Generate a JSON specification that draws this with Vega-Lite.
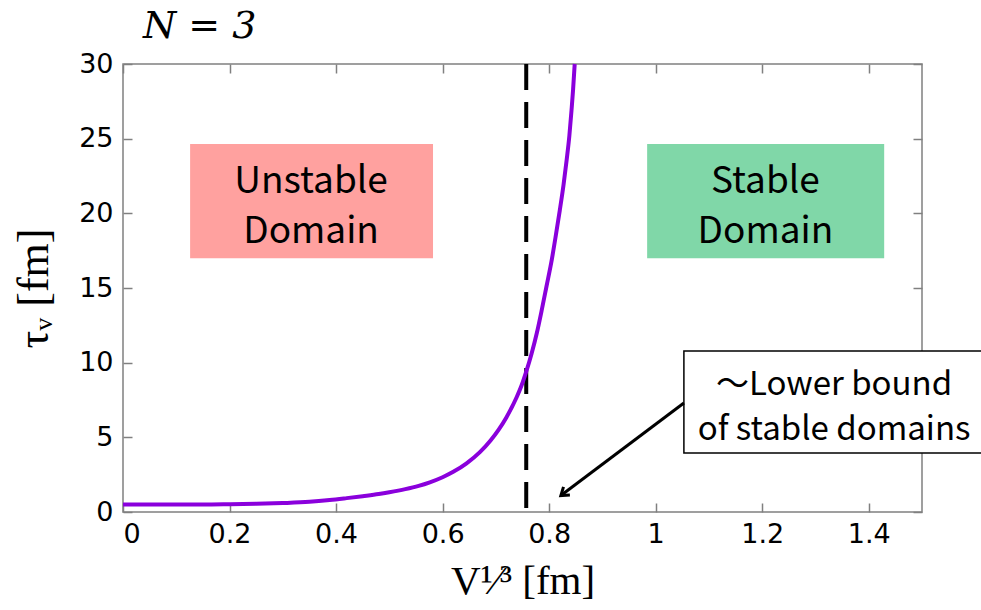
{
  "$schema": "https://vega.github.io/schema/vega-lite/v6.json",
  "autosize": "none",
  "width": 799,
  "height": 448,
  "padding": {"left": 123, "top": 64, "right": 59, "bottom": 98},
  "background": "white",
  "title": {"text": "N = 3", "anchor": "start", "frame": "group", "font": "DejaVu Serif", "fontStyle": "italic", "fontWeight": "normal", "fontSize": 38, "color": "black", "dx": 20, "offset": 4},
  "config": {
    "view": {"stroke": "#808080", "strokeWidth": 1.5},
    "axis": {"grid": false, "domain": false, "tickColor": "#808080", "tickWidth": 1.5, "tickSize": -9, "labelColor": "black", "labelFont": "DejaVu Sans", "labelFontSize": 27, "titleColor": "black", "titleFont": "Liberation Serif", "titleFontWeight": "normal", "titleFontSize": 36}
  },
  "datasets": {
    "curve": [
      {"v": 0.0, "tau": 0.5}, {"v": 0.05, "tau": 0.5}, {"v": 0.1, "tau": 0.5}, {"v": 0.15, "tau": 0.5},
      {"v": 0.2, "tau": 0.52}, {"v": 0.25, "tau": 0.55}, {"v": 0.3, "tau": 0.6}, {"v": 0.35, "tau": 0.68},
      {"v": 0.388, "tau": 0.8}, {"v": 0.42, "tau": 0.93}, {"v": 0.45, "tau": 1.06}, {"v": 0.48, "tau": 1.2},
      {"v": 0.5, "tau": 1.32}, {"v": 0.53, "tau": 1.53}, {"v": 0.555, "tau": 1.75}, {"v": 0.576, "tau": 1.99},
      {"v": 0.6, "tau": 2.33}, {"v": 0.62, "tau": 2.69}, {"v": 0.645, "tau": 3.26}, {"v": 0.67, "tau": 4.01},
      {"v": 0.69, "tau": 4.79}, {"v": 0.705, "tau": 5.5}, {"v": 0.72, "tau": 6.35}, {"v": 0.739, "tau": 7.68},
      {"v": 0.748, "tau": 8.45}, {"v": 0.757, "tau": 9.4}, {"v": 0.767, "tau": 10.6}, {"v": 0.777, "tau": 12.0},
      {"v": 0.786, "tau": 13.5}, {"v": 0.795, "tau": 15.1}, {"v": 0.805, "tau": 16.9}, {"v": 0.812, "tau": 18.4},
      {"v": 0.82, "tau": 20.2}, {"v": 0.827, "tau": 21.9}, {"v": 0.833, "tau": 23.6}, {"v": 0.838, "tau": 25.2},
      {"v": 0.842, "tau": 26.9}, {"v": 0.845, "tau": 28.3}, {"v": 0.848, "tau": 30.0}
    ],
    "boxes": [
      {"kind": "Unstable", "x1": 0.126, "x2": 0.582, "y1": 24.64, "y2": 17.0},
      {"kind": "Stable", "x1": 0.984, "x2": 1.429, "y1": 24.64, "y2": 17.0}
    ],
    "boxlabels": [
      {"label": "Unstable", "x": 0.353, "y": 22.1},
      {"label": "Domain", "x": 0.353, "y": 18.75},
      {"label": "Stable", "x": 1.206, "y": 22.1},
      {"label": "Domain", "x": 1.206, "y": 18.75}
    ],
    "note": [{"x1": 1.053, "x2": 1.62, "y1": 10.78, "y2": 3.95}],
    "notelabels": [
      {"label": "～Lower bound", "x": 1.335, "y": 8.5},
      {"label": "of stable domains", "x": 1.335, "y": 5.5}
    ],
    "arrow": [{"x1": 1.053, "y1": 7.3, "x2": 0.822, "y2": 1.1}],
    "boundary": [{"v": 0.757}]
  },
  "resolve": {"axis": {"x": "independent", "y": "independent"}},
  "layer": [
    {
      "data": {"name": "boxes"},
      "mark": {"type": "rect"},
      "encoding": {
        "x": {"field": "x1", "type": "quantitative", "scale": {"domain": [0, 1.5], "nice": false}, "axis": null},
        "x2": {"field": "x2"},
        "y": {"field": "y1", "type": "quantitative", "scale": {"domain": [0, 30], "nice": false}, "axis": null},
        "y2": {"field": "y2"},
        "color": {"field": "kind", "type": "nominal", "scale": {"domain": ["Unstable", "Stable"], "range": ["#ffa19f", "#80d7a8"]}, "legend": null}
      }
    },
    {
      "data": {"name": "boxlabels"},
      "mark": {"type": "text", "font": "Noto Sans CJK JP", "fontSize": 37, "color": "black", "align": "center", "baseline": "middle"},
      "encoding": {
        "x": {"field": "x", "type": "quantitative", "scale": {"domain": [0, 1.5], "nice": false}, "axis": null},
        "y": {"field": "y", "type": "quantitative", "scale": {"domain": [0, 30], "nice": false}, "axis": null},
        "text": {"field": "label"}
      }
    },
    {
      "data": {"name": "boundary"},
      "mark": {"type": "rule", "color": "black", "strokeWidth": 4, "strokeDash": [26, 12]},
      "encoding": {
        "x": {"field": "v", "type": "quantitative", "scale": {"domain": [0, 1.5], "nice": false}, "axis": null}
      }
    },
    {
      "data": {"name": "curve"},
      "mark": {"type": "line", "color": "#8a00dc", "strokeWidth": 4, "interpolate": "monotone"},
      "encoding": {
        "x": {"field": "v", "type": "quantitative", "title": "V¹⁄³ [fm]", "scale": {"domain": [0, 1.5], "nice": false},
              "axis": {"orient": "bottom", "values": [0, 0.2, 0.4, 0.6, 0.8, 1, 1.2, 1.4], "labelExpr": "format(datum.value, '~g')", "labelPadding": 18, "titlePadding": 14, "titleFontSize": 41}},
        "y": {"field": "tau", "type": "quantitative", "title": "τᵥ [fm]", "scale": {"domain": [0, 30], "nice": false},
              "axis": {"orient": "left", "values": [0, 5, 10, 15, 20, 25, 30], "labelPadding": 19, "titlePadding": 22, "titleFontSize": 44}}
      }
    },
    {
      "data": {"name": "note"},
      "mark": {"type": "rect", "fill": "white", "stroke": "black", "strokeWidth": 1.5},
      "encoding": {
        "x": {"field": "x1", "type": "quantitative", "scale": {"domain": [0, 1.5], "nice": false}, "axis": {"orient": "top", "values": [0, 0.2, 0.4, 0.6, 0.8, 1, 1.2, 1.4], "labels": false, "title": null}},
        "x2": {"field": "x2"},
        "y": {"field": "y1", "type": "quantitative", "scale": {"domain": [0, 30], "nice": false}, "axis": {"orient": "right", "values": [0, 5, 10, 15, 20, 25, 30], "labels": false, "title": null}},
        "y2": {"field": "y2"}
      }
    },
    {
      "data": {"name": "notelabels"},
      "mark": {"type": "text", "font": "Noto Sans CJK JP", "fontSize": 33, "color": "black", "align": "center", "baseline": "middle"},
      "encoding": {
        "x": {"field": "x", "type": "quantitative", "scale": {"domain": [0, 1.5], "nice": false}, "axis": null},
        "y": {"field": "y", "type": "quantitative", "scale": {"domain": [0, 30], "nice": false}, "axis": null},
        "text": {"field": "label"}
      }
    },
    {
      "data": {"name": "arrow"},
      "mark": {"type": "rule", "color": "black", "strokeWidth": 3},
      "encoding": {
        "x": {"field": "x1", "type": "quantitative", "scale": {"domain": [0, 1.5], "nice": false}, "axis": null},
        "y": {"field": "y1", "type": "quantitative", "scale": {"domain": [0, 30], "nice": false}, "axis": null},
        "x2": {"field": "x2"},
        "y2": {"field": "y2"}
      }
    },
    {
      "data": {"name": "arrow"},
      "mark": {"type": "point", "shape": "M -1 -0.7 L 0 0 L -1 0.7", "filled": false, "stroke": "black", "strokeWidth": 3, "size": 220, "angle": 142, "opacity": 1},
      "encoding": {
        "x": {"field": "x2", "type": "quantitative", "scale": {"domain": [0, 1.5], "nice": false}, "axis": null},
        "y": {"field": "y2", "type": "quantitative", "scale": {"domain": [0, 30], "nice": false}, "axis": null}
      }
    }
  ]
}
